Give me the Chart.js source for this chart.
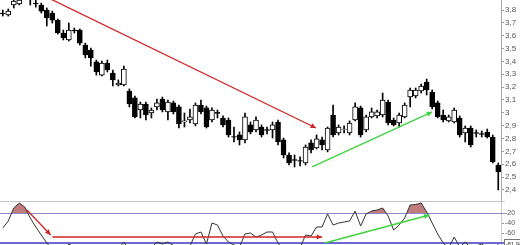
<!DOCTYPE html>
<html>
<head>
<meta charset="utf-8">
<script src="https://cdn.jsdelivr.net/npm/chart.js@4"></script>
<style>
  html, body { margin: 0; padding: 0; background: #fff; overflow: hidden; }
  #main { position: absolute; left: 0; top: 0; }
  #osc { position: absolute; left: 0; top: 201px; }
</style>
</head>
<body>
<canvas id="main" width="520" height="201"></canvas>
<canvas id="osc" width="520" height="44"></canvas>
<script>
// daily candles
const opens = [3.777, 3.761, 3.839, 3.847, 3.90, 3.91, 3.854, 3.839, 3.800, 3.777,
  3.722, 3.621, 3.567, 3.644, 3.644, 3.528, 3.489, 3.396, 3.294, 3.388,
  3.310, 3.217, 3.217, 3.170, 3.116, 3.022, 3.069, 2.999, 3.046, 3.108,
  3.007, 3.077, 3.046, 2.929, 2.944, 2.913, 3.061, 3.038, 2.944, 3.003,
  2.960, 2.944, 2.816, 2.828, 2.789, 2.906, 2.867, 2.890, 2.870, 2.867,
  2.929, 2.789, 2.672, 2.637, 2.629, 2.610, 2.766, 2.727, 2.789, 2.711,
  2.983, 2.843, 2.870, 2.843, 2.944, 3.038, 2.867, 2.968, 2.976, 2.983,
  3.084, 2.944, 2.921, 2.968, 3.123, 3.131, 3.170, 3.240, 3.162, 3.077,
  2.983, 2.937, 2.929, 2.960, 2.843, 2.882, 2.846, 2.838, 2.851, 2.812,
  2.594];
const highs = [3.800, 3.808, 3.878, 3.893, 3.95, 3.93, 3.878, 3.854, 3.816, 3.792,
  3.730, 3.644, 3.699, 3.660, 3.652, 3.543, 3.504, 3.411, 3.403, 3.411,
  3.333, 3.256, 3.364, 3.186, 3.131, 3.084, 3.084, 3.038, 3.108, 3.123,
  3.100, 3.092, 3.061, 2.999, 3.030, 3.077, 3.100, 3.053, 3.038, 3.022,
  2.976, 2.960, 2.890, 2.851, 2.999, 2.929, 2.968, 2.906, 2.890, 2.929,
  2.944, 2.804, 2.688, 2.672, 2.657, 2.750, 2.789, 2.828, 2.812, 2.890,
  3.061, 2.906, 2.898, 2.937, 3.077, 3.053, 2.983, 3.038, 3.022, 3.154,
  3.100, 2.960, 2.999, 3.077, 3.193, 3.193, 3.224, 3.263, 3.178, 3.092,
  3.022, 2.983, 3.038, 2.976, 2.898, 2.898, 2.867, 2.859, 2.874, 2.828,
  2.610];
const lows = [3.753, 3.753, 3.816, 3.839, 3.89, 3.839, 3.823, 3.777, 3.676, 3.699,
  3.613, 3.567, 3.559, 3.621, 3.528, 3.427, 3.364, 3.294, 3.287, 3.318,
  3.209, 3.209, 3.209, 3.046, 2.960, 2.960, 2.944, 2.960, 3.022, 3.007,
  2.944, 2.991, 2.882, 2.890, 2.921, 2.898, 2.991, 2.882, 2.929, 2.960,
  2.890, 2.812, 2.773, 2.750, 2.766, 2.836, 2.851, 2.812, 2.836, 2.804,
  2.750, 2.649, 2.594, 2.579, 2.587, 2.594, 2.688, 2.719, 2.711, 2.696,
  2.812, 2.828, 2.843, 2.828, 2.937, 2.812, 2.851, 2.960, 2.960, 2.968,
  2.906, 2.898, 2.890, 2.960, 3.046, 3.116, 3.154, 3.139, 3.030, 2.960,
  2.929, 2.929, 2.921, 2.812, 2.773, 2.734, 2.812, 2.812, 2.804, 2.610,
  2.400];
const closes = [3.770, 3.792, 3.870, 3.878, 3.93, 3.89, 3.847, 3.792, 3.738, 3.722,
  3.621, 3.582, 3.644, 3.637, 3.543, 3.450, 3.427, 3.318, 3.388, 3.333,
  3.256, 3.232, 3.341, 3.069, 2.968, 3.069, 2.983, 3.022, 3.077, 3.022,
  3.084, 3.007, 2.913, 2.937, 2.968, 3.061, 3.007, 2.890, 3.022, 2.996,
  2.906, 2.828, 2.810, 2.789, 2.968, 2.851, 2.944, 2.828, 2.864, 2.906,
  2.773, 2.672, 2.610, 2.630, 2.623, 2.734, 2.711, 2.797, 2.750, 2.882,
  2.828, 2.890, 2.874, 2.921, 3.046, 2.828, 2.968, 3.007, 3.007, 3.100,
  2.921, 2.906, 2.983, 3.061, 3.178, 3.178, 3.209, 3.178, 3.046, 2.968,
  2.944, 2.968, 3.022, 2.828, 2.882, 2.750, 2.840, 2.833, 2.812, 2.618,
  2.540];

// Williams %R, one value per candle
const wpr = [-50, -36, -10, 0, -8, -30, -48, -64, -80, -92,
  -98, -97, -82, -88, -96, -97, -95, -98, -92, -93,
  -96, -92, -78, -95, -99, -92, -95, -90, -78, -82,
  -78, -85, -97, -92, -86, -62, -58, -82, -40, -44,
  -66, -78, -84, -88, -62, -60, -68, -64, -58, -58,
  -80, -95, -99, -97, -90, -64, -66, -48, -48, -22,
  -44, -40, -38, -36, -16, -46, -22, -16, -14, -10,
  -26, -54, -44, -30, -4, -3, 0, -18, -40, -62,
  -80, -90, -68, -88, -78, -90, -86, -82, -90, -98,
  -82];
const wprLast = '-81,98';

const priceTicks = [2.4, 2.5, 2.6, 2.7, 2.8, 2.9, 3.0, 3.1, 3.2, 3.3, 3.4, 3.5, 3.6, 3.7, 3.8];
const wprTicks = [-20, -40, -60];

// trend arrows, in (candle index, value)
const priceArrows = [
  { color: '#d02525', points: [[8, 3.90], [56.9, 2.882]] },
  { color: '#3fd23f', points: [[56.2, 2.579], [78, 3.007]] }
];
const wprArrows = [
  { color: '#d02525', points: [[4.4, -14], [8.7, -64]] },
  { color: '#d02525', points: [[9, -68], [58, -68]] },
  { color: '#3fd23f', points: [[58.5, -80], [77.5, -24]] }
];

const idx = opens.map((_, i) => i);
const bodyData = idx.map(i => ({ x: i, y: [opens[i], closes[i]] }));
const wickData = idx.map(i => ({ x: i, y: [lows[i], highs[i]] }));

function arrowPlugin(arrows) {
  return {
    id: 'arrows',
    afterDatasetsDraw(chart) {
      const { ctx, chartArea, scales: { x, y } } = chart;
      ctx.save();
      ctx.beginPath();
      ctx.rect(chartArea.left, chartArea.top, chartArea.width, chartArea.height);
      ctx.clip();
      arrows.forEach(a => {
        const pts = a.points.map(p => [x.getPixelForValue(p[0]), y.getPixelForValue(p[1])]);
        ctx.strokeStyle = a.color;
        ctx.lineWidth = 1.3;
        ctx.beginPath();
        pts.forEach((p, k) => k ? ctx.lineTo(p[0], p[1]) : ctx.moveTo(p[0], p[1]));
        ctx.stroke();
        const p1 = pts[pts.length - 2], p2 = pts[pts.length - 1];
        const ang = Math.atan2(p2[1] - p1[1], p2[0] - p1[0]);
        ctx.fillStyle = a.color;
        ctx.beginPath();
        ctx.moveTo(p2[0], p2[1]);
        ctx.lineTo(p2[0] - 6 * Math.cos(ang - 0.45), p2[1] - 6 * Math.sin(ang - 0.45));
        ctx.lineTo(p2[0] - 6 * Math.cos(ang + 0.45), p2[1] - 6 * Math.sin(ang + 0.45));
        ctx.closePath();
        ctx.fill();
      });
      ctx.restore();
    }
  };
}

// right axis: fixed width, no extra room for half labels at the ends
function fitAxis(s) {
  s.width = 19;
  s.paddingTop = 0;
  s.paddingBottom = 0;
}

const tickFont = { family: 'Liberation Sans, Arial, sans-serif', size: 8 };

new Chart(document.getElementById('main'), {
  type: 'bar',
  data: {
    datasets: [
      {
        data: bodyData,
        backgroundColor: idx.map(i => closes[i] >= opens[i] ? '#ffffff' : '#000000'),
        borderColor: '#000',
        borderWidth: 1,
        borderSkipped: false,
        barThickness: 5,
        grouped: false,
        order: 1
      },
      {
        data: wickData,
        backgroundColor: '#000',
        barThickness: 1,
        grouped: false,
        order: 2
      }
    ]
  },
  options: {
    responsive: false,
    animation: false,
    layout: { padding: 0 },
    plugins: { legend: { display: false }, tooltip: { enabled: false } },
    scales: {
      x: { type: 'linear', min: -0.5, max: 90.5, offset: false, display: false },
      y: {
        position: 'right',
        min: 2.314,
        max: 3.878,
        afterBuildTicks: s => { s.ticks = priceTicks.map(v => ({ value: v })); },
        afterFit: fitAxis,
        ticks: {
          font: tickFont,
          color: '#555',
          padding: 1,
          callback: v => String(Number(v.toFixed(1))).replace('.', ',')
        },
        grid: { drawOnChartArea: false, tickLength: 3, color: '#999' },
        border: { color: '#aaa' }
      }
    }
  },
  plugins: [arrowPlugin(priceArrows)]
});

const oscLines = {
  id: 'oscLines',
  beforeDatasetsDraw(chart) {
    const { ctx, chartArea, scales: { y } } = chart;
    const r = chartArea.right + 4;
    ctx.save();
    ctx.strokeStyle = '#c4c4c4';
    ctx.lineWidth = 1;
    ctx.beginPath();
    ctx.moveTo(0, chartArea.top + 0.5);
    ctx.lineTo(r, chartArea.top + 0.5);
    ctx.stroke();
    ctx.strokeStyle = '#8a8ac8';
    ctx.beginPath();
    ctx.moveTo(0, Math.round(y.getPixelForValue(-20)) + 0.5);
    ctx.lineTo(r, Math.round(y.getPixelForValue(-20)) + 0.5);
    ctx.stroke();
    ctx.strokeStyle = '#6a6ad2';
    ctx.lineWidth = 2;
    ctx.beginPath();
    ctx.moveTo(0, Math.round(y.getPixelForValue(-80)));
    ctx.lineTo(r, Math.round(y.getPixelForValue(-80)));
    ctx.stroke();
    ctx.restore();
  },
  afterDraw(chart) {
    const { ctx, chartArea, scales: { y } } = chart;
    const yy = y.getPixelForValue(wpr[wpr.length - 1]);
    const x0 = chartArea.right + 3;
    ctx.save();
    ctx.fillStyle = '#fff';
    ctx.strokeStyle = '#777';
    ctx.lineWidth = 1;
    ctx.fillRect(x0, yy - 5, 20, 10);
    ctx.strokeRect(x0 + 0.5, yy - 4.5, 19, 9);
    ctx.fillStyle = '#333';
    ctx.font = '6px Liberation Sans, Arial, sans-serif';
    ctx.textBaseline = 'middle';
    ctx.fillText(wprLast, x0 + 1.5, yy);
    ctx.restore();
  }
};

new Chart(document.getElementById('osc'), {
  type: 'line',
  data: {
    datasets: [{
      data: idx.map(i => ({ x: i, y: wpr[i] })),
      borderColor: '#333',
      borderWidth: 1,
      pointRadius: 0,
      tension: 0,
      fill: { target: { value: -20 }, above: 'rgba(168,72,72,0.72)', below: 'rgba(0,0,0,0)' }
    }]
  },
  options: {
    responsive: false,
    animation: false,
    layout: { padding: 0 },
    plugins: { legend: { display: false }, tooltip: { enabled: false } },
    scales: {
      x: { type: 'linear', min: -0.5, max: 90.5, offset: false, display: false },
      y: {
        position: 'right',
        min: -84,
        max: 4,
        afterBuildTicks: s => { s.ticks = wprTicks.map(v => ({ value: v })); },
        afterFit: fitAxis,
        ticks: { font: { family: 'Liberation Sans, Arial, sans-serif', size: 7 }, color: '#555', padding: 1 },
        grid: { drawOnChartArea: false, tickLength: 3, color: '#999' },
        border: { color: '#ccc' }
      }
    }
  },
  plugins: [oscLines, arrowPlugin(wprArrows)]
});
</script>
</body>
</html>
